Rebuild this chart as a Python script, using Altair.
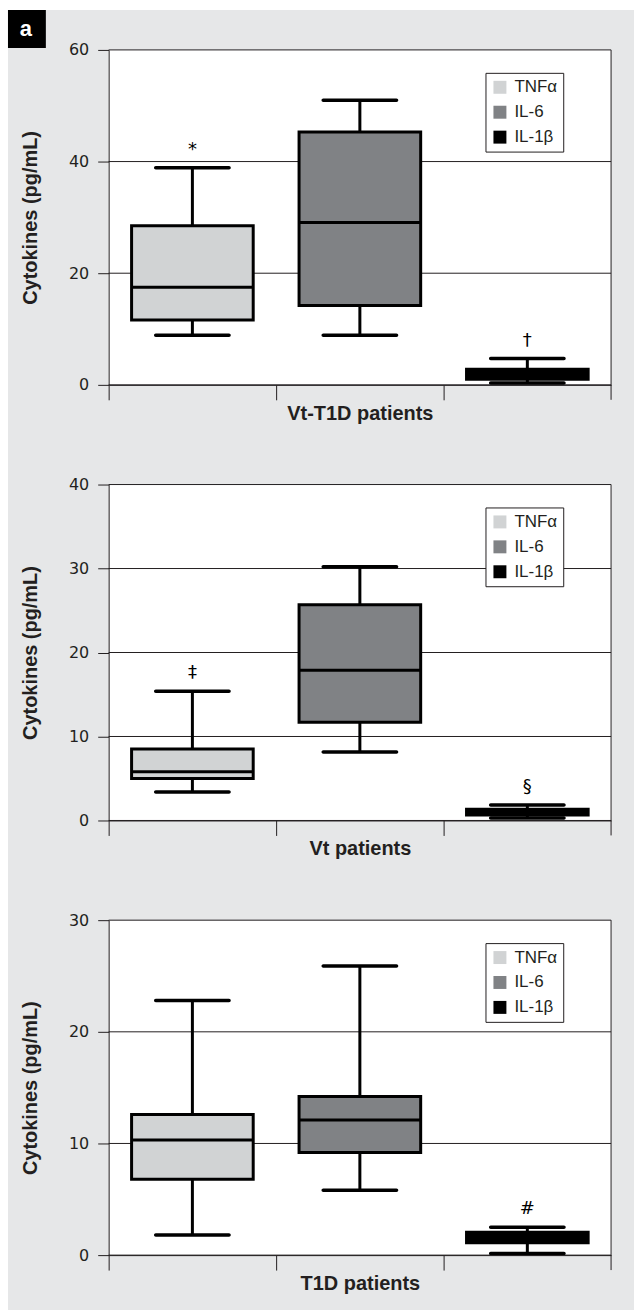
import altair as alt
import pandas as pd

# ---------------- data ----------------
cytokines = ["TNFα", "IL-6", "IL-1β"]
fill_colors = ["#d1d3d4", "#808285", "#000000"]
panel_titles = ["Vt-T1D patients", "Vt patients", "T1D patients"]
y_max = [60, 40, 30]
y_ticks = [[0, 20, 40, 60], [0, 10, 20, 30, 40], [0, 10, 20, 30]]

# per panel, values for TNFα, IL-6, IL-1β
lower = [[8.9, 8.9, 0.35], [3.4, 8.15, 0.3], [1.8, 5.8, 0.15]]
q1 = [[11.6, 14.2, 1.0], [5.0, 11.7, 0.65], [6.8, 9.2, 1.1]]
median = [[17.5, 29.1, 1.9], [5.8, 17.9, 1.0], [10.3, 12.1, 1.5]]
q3 = [[28.5, 45.3, 2.8], [8.5, 25.7, 1.35], [12.6, 14.2, 2.05]]
upper = [[38.9, 51.0, 4.7], [15.4, 30.2, 1.85], [22.8, 25.9, 2.5]]
signif = [["*", "", "†"], ["‡", "", "§"], ["", "", "#"]]

W = 504
HEIGHTS = [336, 337, 336]
INK = "#231f20"
BG = "#e6e7e8"
one = pd.DataFrame({"k": [0]})


def panel(i):
    H = HEIGHTS[i]
    df = pd.DataFrame({
        "cytokine": cytokines,
        "lower": lower[i],
        "q1": q1[i],
        "median": median[i],
        "q3": q3[i],
        "upper": upper[i],
        "mark": signif[i],
    })
    grid_df = pd.DataFrame({"tick": y_ticks[i]})

    yscale = alt.Scale(domain=[0, y_max[i]], nice=False, zero=True)
    yaxis = alt.Axis(
        values=y_ticks[i], title="Cytokines (pg/mL)", grid=False,
        titleFont="Liberation Sans", titleFontSize=20, titleFontWeight="bold",
        titleColor=INK, titlePadding=28,
        labelFont="DejaVu Sans", labelFontSize=16, labelColor=INK,
        labelPadding=9, labelFlush=False,
        tickSize=11, tickColor=INK, domainColor=INK, zindex=1,
    )
    xaxis = alt.Axis(
        labels=False, title=panel_titles[i], grid=False,
        titleFont="Liberation Sans", titleFontSize=20, titleFontWeight="bold",
        titleColor=INK, titlePadding=3,
        tickSize=15, bandPosition=0, tickColor=INK, domainColor=INK, zindex=1,
    )
    xenc = alt.X("cytokine:N", sort=cytokines,
                 scale=alt.Scale(paddingInner=0, paddingOuter=0), axis=xaxis)

    def y(field):
        return alt.Y(f"{field}:Q", scale=yscale, axis=yaxis)

    base = alt.Chart(df)
    layers = []

    if i == 0:
        # figure background, panel label "a" and white plot area
        layers.append(alt.Chart(one).mark_rect(color=BG).encode(
            x=alt.value(-101), x2=alt.value(527), y=alt.value(-40), y2=alt.value(1264)))
        layers.append(alt.Chart(one).mark_rect(color="black").encode(
            x=alt.value(-101), x2=alt.value(-63), y=alt.value(-40), y2=alt.value(-2)))
        layers.append(alt.Chart(one).mark_text(
            text="a", color="white", font="Liberation Sans", fontSize=22,
            fontWeight="bold", align="center", baseline="alphabetic").encode(
            x=alt.value(-83), y=alt.value(-14)))
        layers.append(alt.Chart(one).mark_rect(color="white").encode(
            x=alt.value(0), x2=alt.value(W), y=alt.value(0), y2=alt.value(H)))

    grid = alt.Chart(grid_df).mark_rule(color=INK, strokeWidth=1).encode(y=y("tick"))
    whisk = base.mark_rule(color="black", strokeWidth=3).encode(
        x=xenc, y=y("lower"), y2="upper:Q")
    box = base.mark_bar(size=122, stroke="black", strokeWidth=3).encode(
        x=xenc, y=y("q1"), y2="q3:Q",
        color=alt.Color("cytokine:N", sort=cytokines,
                        scale=alt.Scale(domain=cytokines, range=fill_colors),
                        legend=alt.Legend(
                            title=None, orient="none", legendX=378, legendY=23,
                            direction="vertical",
                            fillColor="white", strokeColor=INK, padding=6,
                            rowPadding=7, labelFont="Liberation Sans",
                            labelFontSize=17, labelColor=INK, labelOffset=6,
                            symbolType="square", symbolSize=169,
                            symbolStrokeWidth=0, symbolOpacity=1, zindex=1)))
    med = base.mark_tick(size=122, thickness=3, color="black", opacity=1).encode(
        x=xenc, y=y("median"))
    cap_lo = base.mark_tick(size=77, thickness=3.5, cornerRadius=1.75,
                            color="black", opacity=1).encode(x=xenc, y=y("lower"))
    cap_hi = base.mark_tick(size=77, thickness=3.5, cornerRadius=1.75,
                            color="black", opacity=1).encode(x=xenc, y=y("upper"))
    note = base.mark_text(font="DejaVu Sans", fontSize=18, color="black",
                          baseline="alphabetic", dy=-13).encode(
        x=xenc, y=y("upper"), text="mark:N")
    border = alt.Chart(one).mark_rule(color=INK, strokeWidth=1).encode(
        x=alt.value(W), y=alt.value(0), y2=alt.value(H + 15))

    layers += [grid, whisk, box, med, cap_lo, cap_hi, note, border]
    return alt.layer(*layers).properties(width=W, height=H)


chart = (
    alt.vconcat(panel(0), panel(1), panel(2), spacing=100, bounds="flush")
    .resolve_scale(color="independent")
    .resolve_legend(color="independent")
    .configure(
        background="white",
        padding={"left": 7, "top": 7, "right": 0, "bottom": 0},
    )
    .configure_view(stroke="transparent", fill="white")
)

chart.save("out.html", embed_options={"renderer": "svg", "actions": False})
